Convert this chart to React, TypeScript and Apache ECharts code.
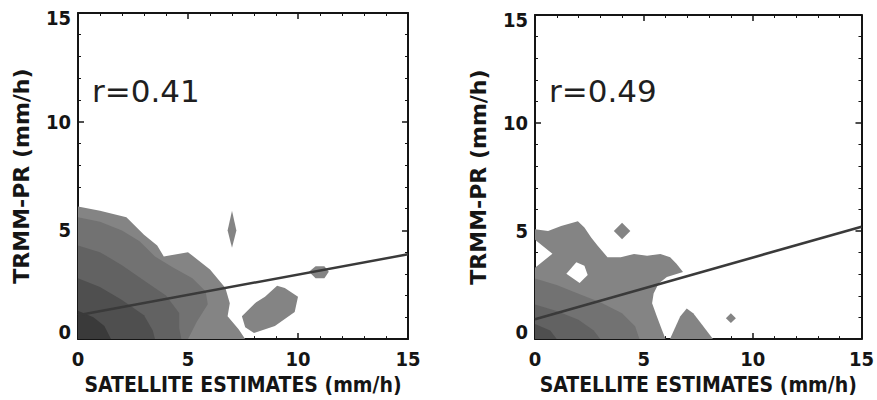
import React, { useEffect, useRef } from "react";
import * as echarts from "echarts";

// ---- axis ticks / labels ----
const X_TITLE = "SATELLITE ESTIMATES (mm/h)";
const Y_TITLE = "TRMM-PR (mm/h)";
const R_LEFT = "r=0.41";
const R_RIGHT = "r=0.49";

// ---- regression lines: [x, y] endpoints ----
const LEFT_FIT: number[][] = [[0, 1.1], [15, 3.9]];
const RIGHT_FIT: number[][] = [[0, 0.92], [15, 5.2]];

// ---- left panel density contours (data units) ----
const LEFT_L1: number[][] = [[0, 6.1], [1, 5.9], [2.2, 5.6], [3, 4.8], [3.6, 4.3], [3.9, 3.8], [5.0, 4.0], [6.0, 3.2], [6.7, 2.35], [6.9, 1.65], [6.8, 1.05], [7.3, 0.45], [7.6, 0], [0, 0]];
const LEFT_ISLE_A: number[][] = [[7.0, 5.9], [7.2, 5.0], [7.0, 4.2], [6.8, 5.0]];
const LEFT_ISLE_B: number[][] = [[7.45, 1.05], [8.1, 1.7], [8.5, 1.95], [9.05, 2.45], [9.4, 2.35], [10.0, 1.95], [9.85, 1.25], [8.95, 0.6], [8.0, 0.28], [7.6, 0.55]];
const LEFT_ISLE_C: number[][] = [[10.5, 3.1], [10.8, 3.35], [11.2, 3.35], [11.4, 3.1], [11.2, 2.8], [10.8, 2.8]];
const LEFT_L2: number[][] = [[0, 5.6], [1, 5.4], [2, 5.0], [2.8, 4.5], [3.5, 3.8], [4.3, 3.3], [5.2, 2.8], [5.8, 2.2], [5.9, 1.6], [5.4, 0.8], [5.0, 0], [0, 0]];
const LEFT_L3: number[][] = [[0, 4.3], [1, 4.0], [2, 3.4], [3, 2.7], [4, 2.0], [4.6, 1.2], [4.6, 0.5], [4.7, 0], [0, 0]];
const LEFT_L4: number[][] = [[0, 2.8], [1, 2.4], [2, 1.8], [3, 1.1], [3.4, 0.4], [3.5, 0], [0, 0]];
const LEFT_L5: number[][] = [[0, 1.3], [0.7, 1.0], [1.2, 0.6], [1.5, 0], [0, 0]];

// ---- right panel density contours (data units) ----
const RIGHT_L1: number[][] = [[0, 0], [0, 3.3], [0.8, 3.95], [0, 4.6], [0, 5.08], [0.6, 5.0], [1.2, 5.24], [1.97, 5.46], [2.27, 5.16], [2.58, 4.7], [2.88, 4.32], [3.33, 3.79], [3.94, 3.79], [4.55, 3.94], [5.15, 3.86], [5.76, 3.94], [6.21, 3.79], [6.5, 3.49], [6.8, 3.1], [6.06, 2.87], [5.68, 2.57], [5.45, 2.11], [5.38, 1.66], [5.6, 1.05], [5.83, 0.43], [6.0, 0]];
const RIGHT_HOLE: number[][] = [[1.44, 3.03], [1.9, 3.56], [2.27, 3.4], [2.42, 2.97], [2.05, 2.6]];
const RIGHT_ISLE_A: number[][] = [[6.2, 0], [6.67, 1.05], [6.97, 1.42], [7.27, 1.2], [7.73, 0.6], [8.18, 0]];
const RIGHT_ISLE_B: number[][] = [[4.0, 5.38], [4.38, 5.0], [4.0, 4.62], [3.62, 5.0]];
const RIGHT_ISLE_C: number[][] = [[9.0, 1.2], [9.23, 0.97], [9.0, 0.74], [8.77, 0.97]];
const RIGHT_L2: number[][] = [[0, 2.8], [1, 2.5], [2, 2.1], [3, 1.7], [4, 1.2], [4.6, 0.6], [4.8, 0], [0, 0]];
const RIGHT_L3: number[][] = [[0, 1.6], [1, 1.3], [2, 0.9], [2.7, 0.4], [3, 0], [0, 0]];
const RIGHT_L4: number[][] = [[0, 0.7], [0.7, 0.4], [1, 0], [0, 0]];

const SHADES = ["#848484", "#727272", "#626262", "#4f4f4f", "#3a3a3a"];
const WHITE = "#ffffff";

type Poly = { pts: number[][]; fill: string };

const LEFT_POLYS: Poly[] = [
  { pts: LEFT_L1, fill: SHADES[0] },
  { pts: LEFT_ISLE_A, fill: SHADES[0] },
  { pts: LEFT_ISLE_B, fill: SHADES[0] },
  { pts: LEFT_ISLE_C, fill: SHADES[0] },
  { pts: LEFT_L2, fill: SHADES[1] },
  { pts: LEFT_L3, fill: SHADES[2] },
  { pts: LEFT_L4, fill: SHADES[3] },
  { pts: LEFT_L5, fill: SHADES[4] },
];
const RIGHT_POLYS: Poly[] = [
  { pts: RIGHT_L1, fill: SHADES[0] },
  { pts: RIGHT_HOLE, fill: WHITE },
  { pts: RIGHT_ISLE_A, fill: SHADES[0] },
  { pts: RIGHT_ISLE_B, fill: SHADES[0] },
  { pts: RIGHT_ISLE_C, fill: SHADES[0] },
  { pts: RIGHT_L2, fill: SHADES[1] },
  { pts: RIGHT_L3, fill: SHADES[2] },
  { pts: RIGHT_L4, fill: SHADES[3] },
];

const INK = "#151515";
const TICK_FONT = "DejaVu Sans Condensed";

function labelFmt(v: number) {
  if (v === 0) return "{lo|0}";
  if (v === 15) return "{hi|15}";
  return "{n|" + v + "}";
}
const tickText = { fontFamily: TICK_FONT, fontWeight: "bold" as const, fontSize: 20, color: INK };

function makeAxes(gridIndex: number) {
  const common = {
    gridIndex,
    type: "value" as const,
    min: 0,
    max: 15,
    interval: 5,
    splitLine: { show: false },
    axisLine: { show: true, onZero: false, lineStyle: { color: INK, width: 2 } },
    axisTick: { show: true, inside: true, length: 6, lineStyle: { color: INK, width: 1.5 } },
    minorTick: { show: true, splitNumber: 5, length: 3, lineStyle: { color: INK, width: 1 } },
  };
  const xBottom = {
    ...common,
    position: "bottom" as const,
    axisLabel: { show: true, margin: 10, ...tickText },
    name: X_TITLE,
    nameLocation: "middle" as const,
    nameGap: 31,
    nameTextStyle: { fontFamily: TICK_FONT, fontWeight: "bold" as const, fontSize: 21, color: INK },
  };
  const xTop = { ...common, position: "top" as const, axisLabel: { show: false } };
  const yLeft = {
    ...common,
    position: "left" as const,
    axisLabel: {
      show: true,
      margin: 7,
      formatter: labelFmt,
      rich: {
        n: { ...tickText },
        lo: { ...tickText, padding: [0, 0, 14, 0] },
        hi: { ...tickText, padding: [10, 0, 0, 0] },
      },
    },
    name: Y_TITLE,
    nameLocation: "middle" as const,
    nameGap: 46,
    nameRotate: 90,
    nameTextStyle: { fontFamily: "DejaVu Sans", fontWeight: "bold" as const, fontSize: 22, color: INK },
  };
  const yRight = { ...common, position: "right" as const, axisLabel: { show: false } };
  return { x: [xBottom, xTop], y: [yLeft, yRight] };
}

function contourSeries(polys: Poly[], axisIdx: number) {
  return {
    type: "custom" as const,
    xAxisIndex: axisIdx,
    yAxisIndex: axisIdx,
    clip: true,
    silent: true,
    z: 1,
    data: polys.map((p) => p.pts[0]),
    renderItem: (params: any, api: any) => {
      const poly = polys[params.dataIndex];
      const points = poly.pts.map((p) => api.coord(p));
      return { type: "polygon", shape: { points }, style: { fill: poly.fill, stroke: null } };
    },
  };
}

function fitSeries(fit: number[][], axisIdx: number) {
  return {
    type: "line" as const,
    xAxisIndex: axisIdx,
    yAxisIndex: axisIdx,
    data: fit,
    symbol: "none",
    silent: true,
    z: 3,
    lineStyle: { color: "#3a3a3a", width: 2.5 },
  };
}

export default function App() {
  const ref = useRef<HTMLDivElement>(null);
  useEffect(() => {
    if (!ref.current) return;
    const chart = echarts.init(ref.current, undefined, { renderer: "svg" });
    const a0 = makeAxes(0);
    const a1 = makeAxes(1);
    chart.setOption({
      animation: false,
      backgroundColor: "#ffffff",
      grid: [
        { left: 78, top: 13, width: 330, height: 330 },
        { left: 535, top: 15, width: 330, height: 328 },
      ],
      xAxis: [a0.x[0], a1.x[0], a0.x[1], a1.x[1]],
      yAxis: [a0.y[0], a1.y[0], a0.y[1], a1.y[1]],
      series: [
        contourSeries(LEFT_POLYS, 0),
        contourSeries(RIGHT_POLYS, 1),
        fitSeries(LEFT_FIT, 0),
        fitSeries(RIGHT_FIT, 1),
      ],
      graphic: [
        {
          type: "text",
          left: 92,
          top: 75,
          style: { text: R_LEFT, font: "31px 'DejaVu Sans'", fill: "#1f1f1f" },
        },
        {
          type: "text",
          left: 549,
          top: 75,
          style: { text: R_RIGHT, font: "31px 'DejaVu Sans'", fill: "#1f1f1f" },
        },
      ],
    });
    return () => chart.dispose();
  }, []);
  return (
    <div
      ref={ref}
      style={{ position: "fixed", left: 0, top: 0, width: 877, height: 400, background: "#fff" }}
    />
  );
}
